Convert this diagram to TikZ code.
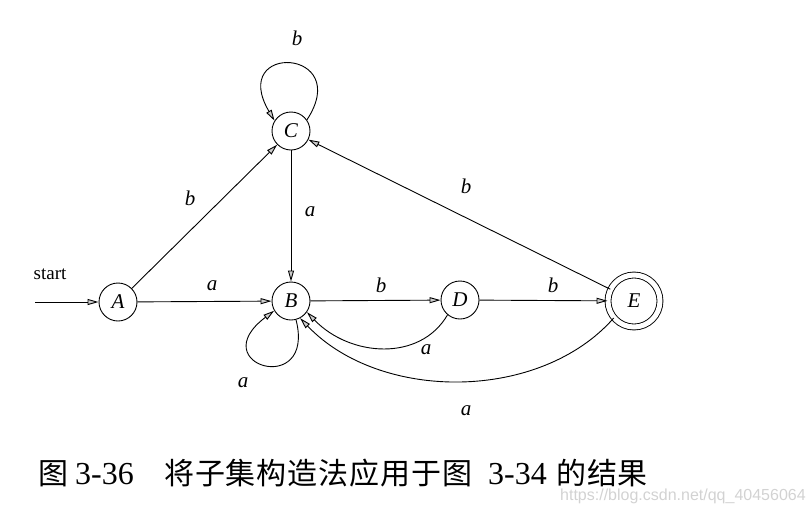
\documentclass[tikz,border=0pt]{standalone}
\usepackage{fontspec}
\setmainfont{Liberation Serif}
\newfontfamily\cjk[LetterSpace=3]{Noto Sans CJK SC}
\newfontfamily\wmfont{Liberation Sans}
\usetikzlibrary{arrows.meta}
\begin{document}
\begin{tikzpicture}[x=1pt,y=-1pt,
  state/.style={circle,draw,line width=0.9pt,minimum size=38pt,inner sep=0pt,font=\fontsize{21}{21}\selectfont\itshape},
  accept/.style={state,double,double distance=5pt,minimum size=52pt},
  edge/.style={line width=0.9pt,-{Triangle[length=11pt,width=6pt,fill=gray!40]}},
  lbl/.style={font=\fontsize{21}{21}\selectfont\itshape,inner sep=0pt},
  captxt/.style={anchor=base west,inner sep=0pt,font=\fontsize{30}{30}\selectfont},
  capnum/.style={anchor=base west,inner sep=0pt,font=\fontsize{32}{32}\selectfont}]
\useasboundingbox (0,0) rectangle (812,512);
\node[state] (A) at (118,302) {A};
\node[state] (B) at (291,301) {B};
\node[state] (C) at (291,131) {C};
\node[state] (D) at (460,300) {D};
\node[accept] (E) at (634,301) {E};
\coordinate (S) at (35,302);
\node[font=\fontsize{19}{19}\selectfont,inner sep=0pt] (st) at (50,274) {start};
\draw[edge] (S) -- (A);
\draw[edge] (A) -- (B);
\draw[edge] (A) -- (C);
\draw[edge] (C) -- (B);
\draw[edge] (B) -- (D);
\draw[edge] (D) -- (E);
\draw[edge] (E) -- (C);
\draw[edge] (C.35) .. controls (354,48) and (228,42) .. (C.148);
\draw[edge] (B.-75) .. controls (316,398) and (202,365) .. (B.210);
\draw[edge] (D.-130) .. controls (420,362) and (350,357) .. (B.-35);
\draw[edge] (E.-140) .. controls (540,402) and (380,402) .. (B.-62);
\node[lbl] (l1) at (297,38) {b};
\node[lbl] (l2) at (190,198) {b};
\node[lbl] (l3) at (310,212) {a};
\node[lbl] (l4) at (212,286) {a};
\node[lbl] (l5) at (381,285) {b};
\node[lbl] (l6) at (553,285) {b};
\node[lbl] (l7) at (466,186) {b};
\node[lbl] (l8) at (426,350) {a};
\node[lbl] (l9) at (243,383) {a};
\node[lbl] (l10) at (466,411) {a};
\node[anchor=base west,inner sep=0pt,text=gray!35,font=\fontsize{16}{16}\wmfont] (wm) at (560,500) {https://blog.csdn.net/qq\_40456064};
\node[captxt] (c0) at (38,484) {\cjk 图};
\node[capnum] (c1) at (75,484) {3-36};
\node[captxt] (c2) at (164,484) {\cjk 将子集构造法应用于图};
\node[capnum] (c3) at (488,484) {3-34};
\node[captxt] (c4) at (556,484) {\cjk 的结果};
\end{tikzpicture}
\end{document}
